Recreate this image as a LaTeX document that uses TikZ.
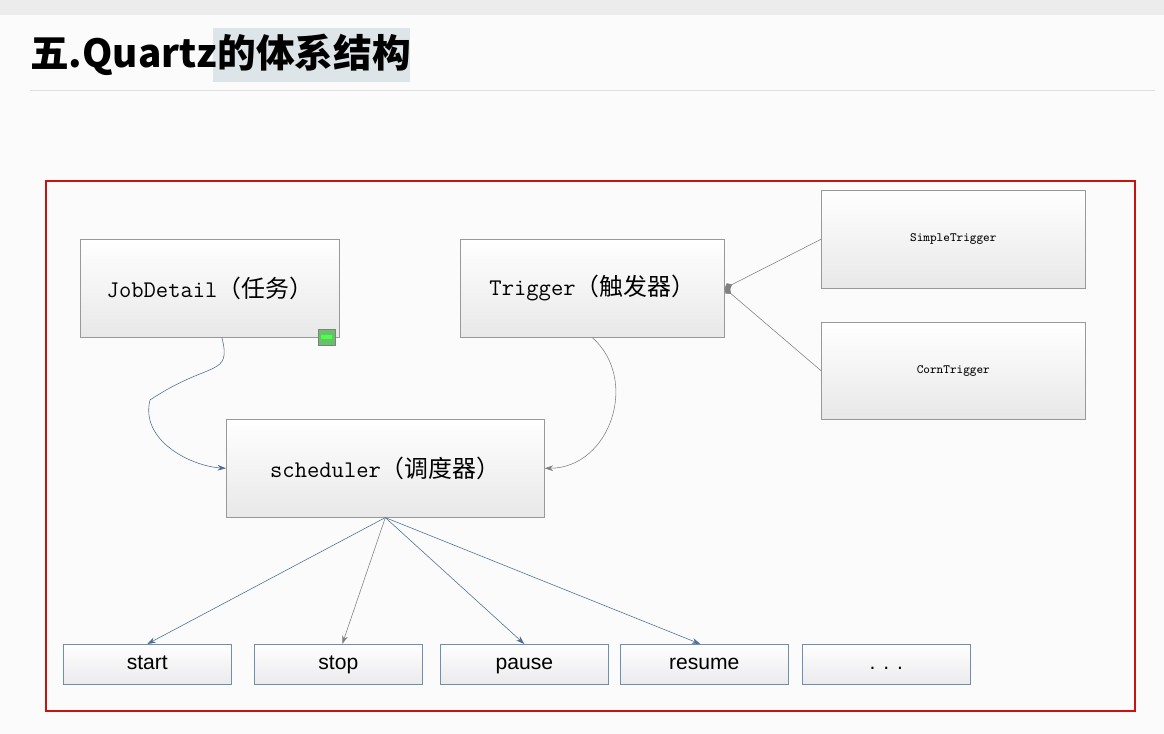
\documentclass[tikz,border=0pt]{standalone}
\usepackage{fontspec}
\setmainfont{Liberation Sans}
\newfontfamily\cjk{Noto Sans CJK SC}
\usetikzlibrary{positioning,arrows.meta}
\definecolor{framered}{HTML}{CC1111}
\definecolor{linkblue}{HTML}{4A6E93}
\definecolor{btnedge}{HTML}{6F8FAF}
\tikzset{
  graybox/.style={draw=gray!80, top color=white, bottom color=gray!18, anchor=north west, inner sep=0pt},
  smallbox/.style={graybox, font=\fontsize{9}{10}\selectfont\ttfamily},
  btnbox/.style={draw=btnedge, top color=white, bottom color=blue!8!gray!15, anchor=north west,
    minimum width=4.2cm, minimum height=1cm, inner sep=0pt, text height=10pt, text depth=3pt,
    font=\fontsize{15}{17}\selectfont},
  link/.style={draw=linkblue, -{Stealth[length=6pt,width=4pt]}},
  graylink/.style={draw=gray, -{Stealth[length=6pt,width=4pt]}}
}
\newcommand{\boxtext}[2]{\fontsize{17}{19}\selectfont\ttfamily #1{\cjk #2}}
\begin{document}
\begin{tikzpicture}[x=0.025cm,y=-0.025cm]
\useasboundingbox (0,0) rectangle (1164,734);
\fill[gray!3] (0,0) rectangle (1164,734);
\fill[gray!15] (0,0) rectangle (1164,15);
% title
\fill[cyan!20!gray!25] (213,28) rectangle (410,82);
\node[anchor=west, inner sep=0pt, font=\cjk\bfseries\fontsize{27.5}{30}\selectfont] (title) at (30,55) {五.Quartz的体系结构};
\draw[gray!25] (30,90) -- (1155,90);
% frame
\draw[framered, line width=2pt] (46,181) rectangle (1135,711);
% boxes
\node[graybox, minimum width=6.48cm, minimum height=2.45cm] (job) at (80,239) {\boxtext{JobDetail}{（任务）}};
\fill[green!60!black!60, draw=gray] (318,329) rectangle (335,345);
\fill[green!70] (321,335) rectangle (332,339);
\node[graybox, minimum width=6.6cm, minimum height=2.45cm] (trig) at (460,239) {\boxtext{Trigger}{（触发器）}};
\node[smallbox, minimum width=6.6cm, minimum height=2.45cm] (simple) at (821,190) {SimpleTrigger};
\node[smallbox, minimum width=6.6cm, minimum height=2.42cm] (corn) at (821,322) {CornTrigger};
\node[graybox, minimum width=7.95cm, minimum height=2.45cm] (sched) at (226,419) {\boxtext{scheduler}{（调度器）}};
% buttons
\node[btnbox] (start) at (63,644) {start};
\node[btnbox] (stop) at (254,644) {stop};
\node[btnbox] (pause) at (440,644) {pause};
\node[btnbox] (resume) at (620,644) {resume};
\node[btnbox] (more) at (802,644) {. . .};
% connectors
\draw[link] (job.south) ++(12,0) .. controls +(10,40) and +(60,-40) .. (150,400) .. controls (140,440) and (190,466) .. (sched.west);
\draw[graylink] (trig.south) .. controls (640,380) and (610,468) .. (sched.east);
\draw[gray, -{Diamond[length=6pt,width=5pt]}] (simple.west) -- (trig.east);
\draw[gray, -{Diamond[length=6pt,width=5pt]}] (corn.west) -- (trig.east);
\draw[link] (sched.south) -- (start.north);
\draw[graylink] (sched.south) -- ([xshift=0.1cm]stop.north);
\draw[link] (sched.south) -- (pause.north);
\draw[link] (sched.south) -- ([xshift=-0.1cm]resume.north);
\end{tikzpicture}
\end{document}
